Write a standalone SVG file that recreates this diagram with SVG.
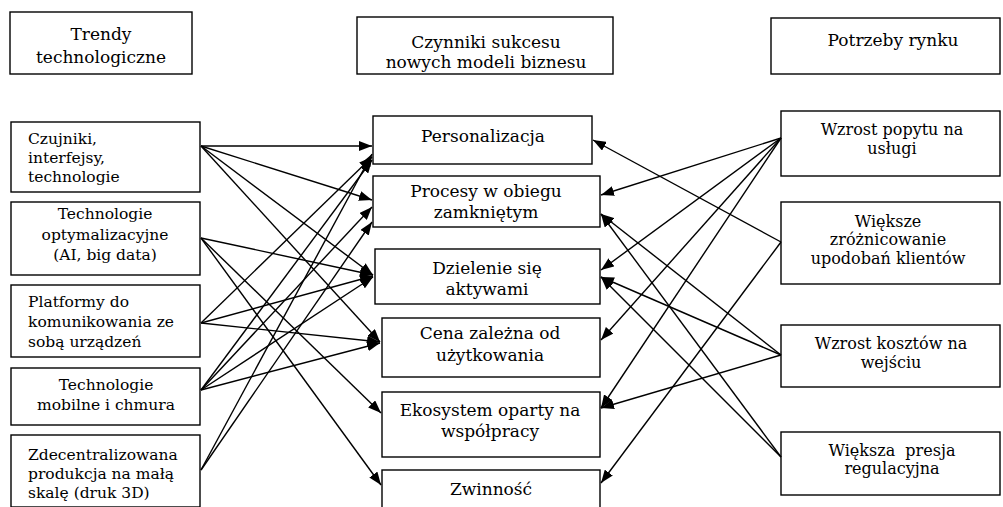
<svg xmlns="http://www.w3.org/2000/svg" width="1003" height="507" viewBox="0 0 1003 507">
<defs>
<marker id="ah" markerUnits="userSpaceOnUse" markerWidth="14" markerHeight="10" refX="13" refY="5" orient="auto">
<path d="M0,0 L13,5 L0,10 z" fill="#000"/>
</marker>
<style>
.box{fill:#fff;stroke:#000;stroke-width:1.4}
text{font-family:'DejaVu Serif',serif;fill:#000}
.t{font-size:15.5px}
.r{font-size:16px}
.m{font-size:17px}
.c{text-anchor:middle}
.con line{stroke:#000;stroke-width:1.4;marker-end:url(#ah)}
</style>
</defs>
<rect width="1003" height="507" fill="#fff"/>
<g id="h-trendy"><rect class="box" x="10" y="12" width="182" height="62"/><text class="m c" x="101" y="40">Trendy</text><text class="m c" x="101" y="63">technologiczne</text></g>
<g id="h-czynniki"><rect class="box" x="357" y="17" width="256" height="57"/><text class="m c" x="486" y="48">Czynniki sukcesu</text><text class="m c" x="486" y="68">nowych modeli biznesu</text></g>
<g id="h-potrzeby"><rect class="box" x="771" y="18" width="229" height="56"/><text class="m c" x="893" y="46">Potrzeby rynku</text></g>

<g id="l1"><rect class="box" x="11" y="122" width="189" height="70"/><text class="t" x="28" y="144">Czujniki,</text><text class="t" x="28" y="163">interfejsy,</text><text class="t" x="28" y="182">technologie</text></g>
<g id="l2"><rect class="box" x="11" y="202" width="189" height="73"/><text class="t c" x="105" y="219">Technologie</text><text class="t c" x="105" y="240">optymalizacyjne</text><text class="t c" x="105" y="260">(AI, big data)</text></g>
<g id="l3"><rect class="box" x="11" y="285" width="189" height="72"/><text class="t" x="28" y="307">Platformy do</text><text class="t" x="28" y="327">komunikowania ze</text><text class="t" x="28" y="347">sobą urządzeń</text></g>
<g id="l4"><rect class="box" x="11" y="368" width="189" height="57"/><text class="t c" x="106" y="390">Technologie</text><text class="t c" x="106" y="410">mobilne i chmura</text></g>
<g id="l5"><rect class="box" x="11" y="435" width="189" height="72"/><text class="t" x="28" y="460">Zdecentralizowana</text><text class="t" x="28" y="479">produkcja na małą</text><text class="t" x="28" y="498">skalę (druk 3D)</text></g>

<g id="m1"><rect class="box" x="373" y="116" width="219" height="48"/><text class="m c" x="483" y="142">Personalizacja</text></g>
<g id="m2"><rect class="box" x="373" y="176" width="227" height="51"/><text class="m c" x="486" y="197">Procesy w obiegu</text><text class="m c" x="486" y="218">zamkniętym</text></g>
<g id="m3"><rect class="box" x="375" y="249" width="225" height="55"/><text class="m c" x="487" y="274">Dzielenie się</text><text class="m c" x="487" y="295">aktywami</text></g>
<g id="m4"><rect class="box" x="382" y="318" width="218" height="59"/><text class="m c" x="490" y="339">Cena zależna od</text><text class="m c" x="490" y="361">użytkowania</text></g>
<g id="m5"><rect class="box" x="382" y="392" width="218" height="65"/><text class="m c" x="490" y="416">Ekosystem oparty na</text><text class="m c" x="490" y="437">współpracy</text></g>
<g id="m6"><rect class="box" x="382" y="470" width="218" height="40"/><text class="m c" x="491" y="495">Zwinność</text></g>

<g id="r1"><rect class="box" x="781" y="111" width="219" height="65"/><text class="r c" x="892" y="135">Wzrost popytu na</text><text class="r c" x="892" y="154">usługi</text></g>
<g id="r2"><rect class="box" x="781" y="202" width="219" height="82"/><text class="r c" x="888" y="227">Większe</text><text class="r c" x="888" y="245">zróżnicowanie</text><text class="r c" x="888" y="264">upodobań klientów</text></g>
<g id="r3"><rect class="box" x="781" y="325" width="219" height="62"/><text class="r c" x="891" y="349">Wzrost kosztów na</text><text class="r c" x="891" y="368">wejściu</text></g>
<g id="r4"><rect class="box" x="781" y="432" width="219" height="63"/><text class="r c" x="892" y="456" xml:space="preserve">Większa  presja</text><text class="r c" x="892" y="474">regulacyjna</text></g>

<g id="connectors" class="con">
<line x1="201" y1="146" x2="372" y2="146"/>
<line x1="201" y1="146" x2="372" y2="200"/>
<line x1="201" y1="146" x2="373" y2="275"/>
<line x1="201" y1="146" x2="380" y2="342"/>
<line x1="201" y1="238" x2="373" y2="275"/>
<line x1="201" y1="238" x2="381" y2="413"/>
<line x1="201" y1="238" x2="381" y2="485"/>
<line x1="201" y1="323" x2="372" y2="157"/>
<line x1="201" y1="323" x2="373" y2="276"/>
<line x1="201" y1="323" x2="380" y2="342"/>
<line x1="201" y1="390" x2="372" y2="160"/>
<line x1="201" y1="390" x2="372" y2="207"/>
<line x1="201" y1="390" x2="373" y2="277"/>
<line x1="201" y1="390" x2="380" y2="343"/>
<line x1="201" y1="470" x2="372" y2="154"/>
<line x1="201" y1="470" x2="372" y2="222"/>
<line x1="781" y1="138" x2="601" y2="195"/>
<line x1="781" y1="138" x2="601" y2="270"/>
<line x1="781" y1="138" x2="601" y2="340"/>
<line x1="781" y1="138" x2="601" y2="408"/>
<line x1="781" y1="242" x2="593" y2="140"/>
<line x1="781" y1="242" x2="601" y2="483"/>
<line x1="781" y1="355" x2="601" y2="214"/>
<line x1="781" y1="355" x2="601" y2="277"/>
<line x1="781" y1="355" x2="601" y2="408"/>
<line x1="781" y1="457" x2="601" y2="214"/>
<line x1="781" y1="457" x2="601" y2="277"/>
</g>
</svg>
